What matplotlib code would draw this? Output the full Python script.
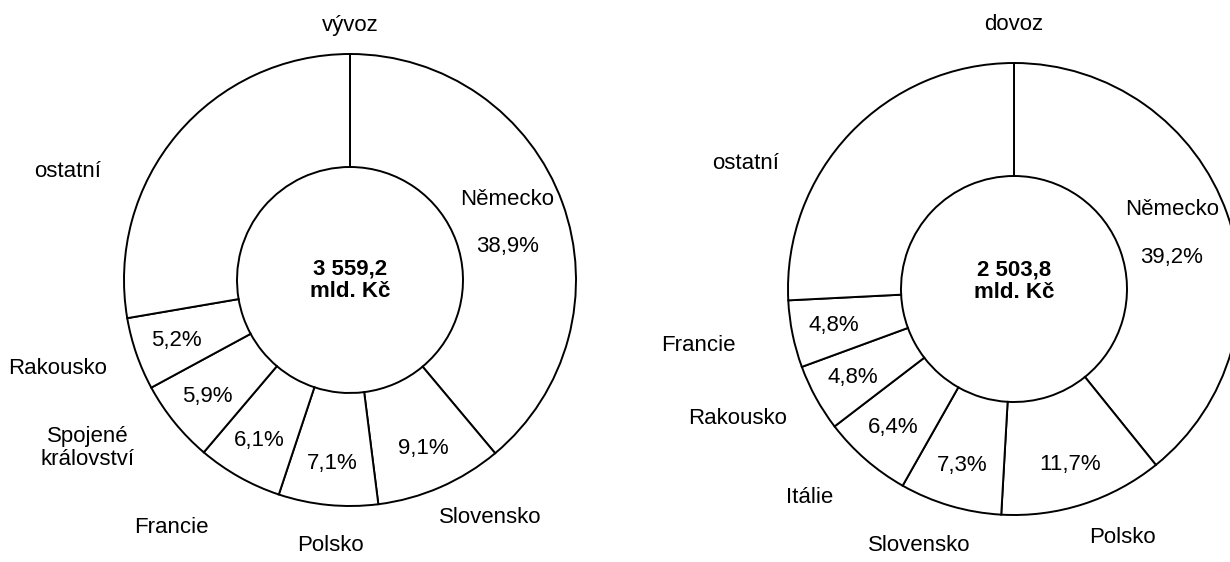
import matplotlib.pyplot as plt
import numpy as np

plt.rcParams['font.family'] = ['Liberation Sans', 'DejaVu Sans']

# vyvoz (export), shares in %
export_labels = ["Německo", "Slovensko", "Polsko", "Francie", "Spojené\nkrálovství", "Rakousko", "ostatní"]
export_share = [38.9, 9.1, 7.1, 6.1, 5.9, 5.2, 27.7]
export_total = "3 559,2\nmld. Kč"

# dovoz (import), shares in %
import_labels = ["Německo", "Polsko", "Slovensko", "Itálie", "Rakousko", "Francie", "ostatní"]
import_share = [39.2, 11.7, 7.3, 6.4, 4.8, 4.8, 25.8]
import_total = "2 503,8\nmld. Kč"

# placement of the outside names: angle nudge (deg), distance (in radii); None = inside
export_name_pos = [None, (6.9, 1.22), (1.3, 1.18), (-6.4, 1.35), (-6.4, 1.38), (-2.2, 1.35), (19.1, 1.34)]
import_name_pos = [None, (5.7, 1.20), (-3.8, 1.21), (-3.4, 1.29), (-3.7, 1.35), (-1.3, 1.42), (18.5, 1.31)]

W, H = 1230, 562
R = 226
FS = 16

fig = plt.figure(figsize=(W / 100, H / 100), dpi=100)
ax = fig.add_axes([0, 0, 1, 1])


def donut(cx, cy, title, labels, share, total, name_pos, total_dy=0):
    wedges, _ = ax.pie(share, radius=R, center=(cx, cy), startangle=90, counterclock=False,
                       wedgeprops=dict(width=R / 2, facecolor='white', edgecolor='black', linewidth=1.4))
    for w, lab, v, pos in zip(wedges, labels, share, name_pos):
        mid = np.deg2rad((w.theta1 + w.theta2) / 2)
        pct = f"{v:.1f}".replace(".", ",") + "%"
        if pos is None:
            # big slice: name and share stacked inside the ring
            ax.text(cx + 0.74 * R * np.cos(mid), cy + 0.74 * R * np.sin(mid), lab + "\n\n" + pct,
                    ha='center', va='center', fontsize=FS, linespacing=1.17)
            continue
        if lab != "ostatní":
            ax.text(cx + 0.815 * R * np.cos(mid), cy + 0.815 * R * np.sin(mid), pct,
                    ha='center', va='center', fontsize=FS)
        a = mid + np.deg2rad(pos[0])
        ax.text(cx + pos[1] * R * np.cos(a), cy + pos[1] * R * np.sin(a), lab,
                ha='center', va='center', fontsize=FS, linespacing=1.12)
    ax.text(cx, cy + total_dy, total, ha='center', va='center', fontsize=FS,
            fontweight='bold', linespacing=1.08)
    ax.text(cx, H - 25, title, ha='center', va='center', fontsize=FS)


donut(350, H - 280, "vývoz", export_labels, export_share, export_total, export_name_pos)
donut(1014, H - 289, "dovoz", import_labels, import_share, import_total, import_name_pos, total_dy=8)

ax.set_xlim(0, W)
ax.set_ylim(0, H)
ax.set_aspect('auto')
ax.axis('off')

fig.savefig("out.png", dpi=100, facecolor='white')
